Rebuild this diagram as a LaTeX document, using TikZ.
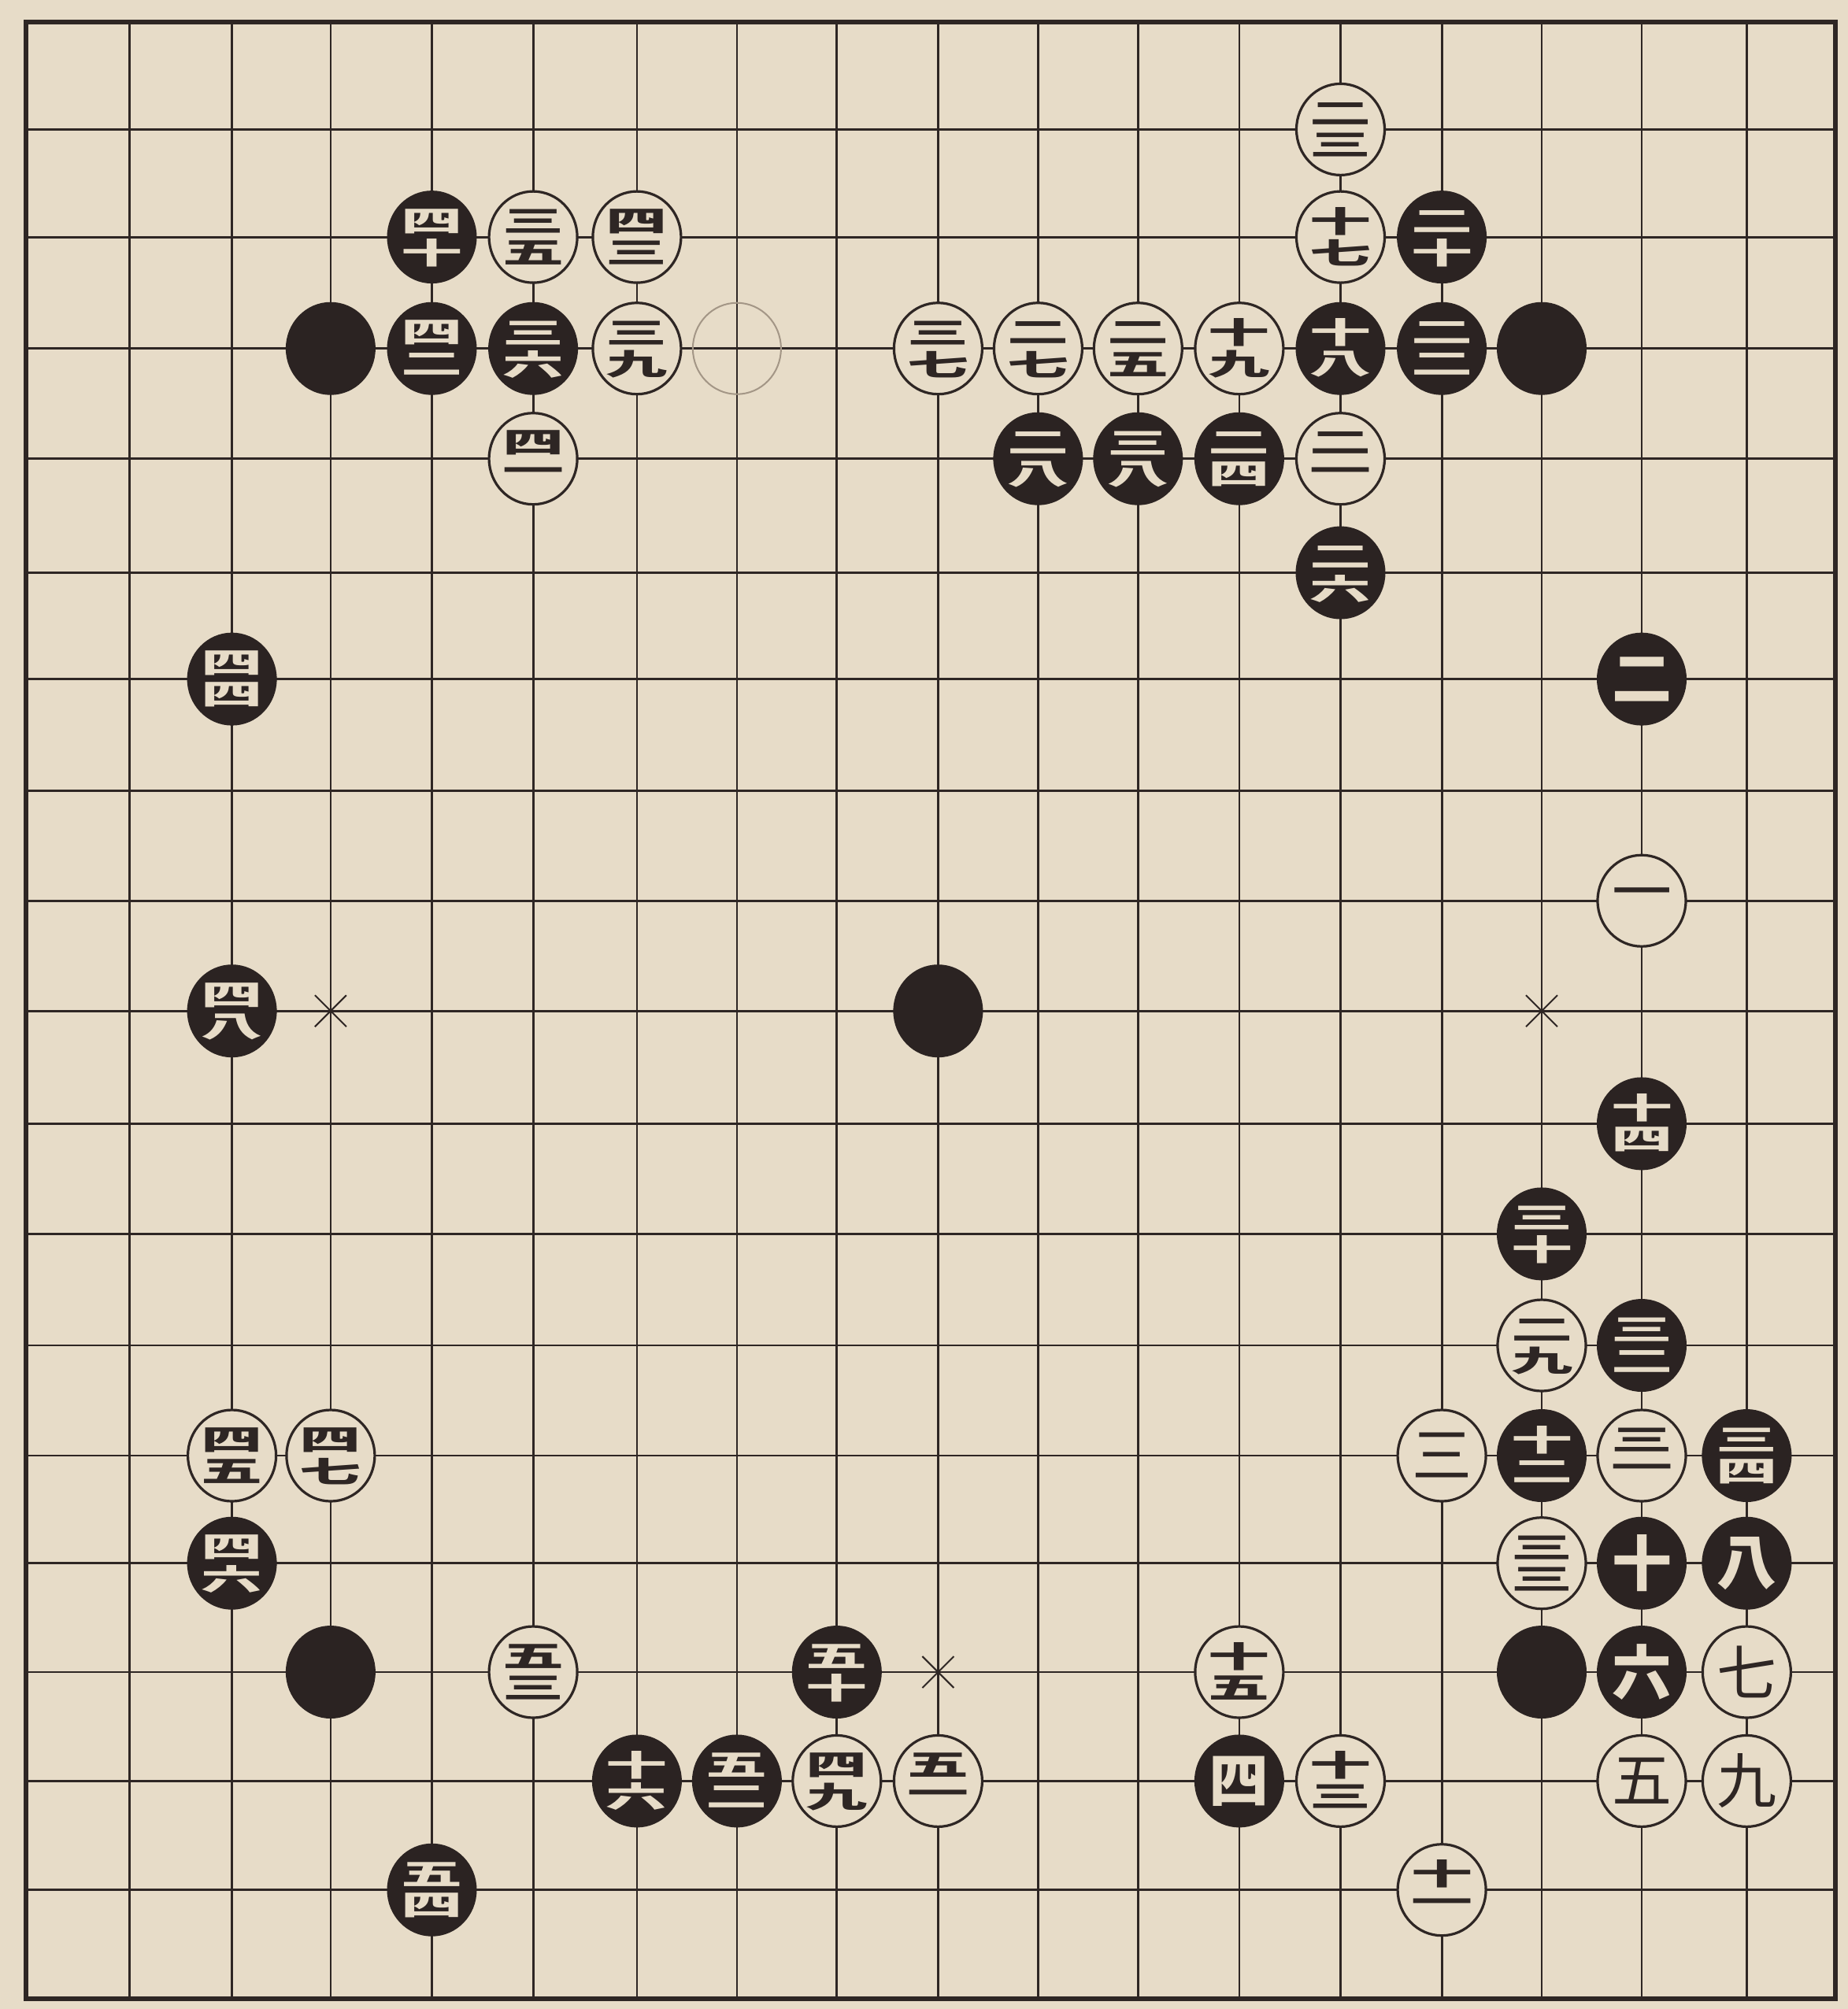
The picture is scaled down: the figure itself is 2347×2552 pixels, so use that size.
\documentclass[tikz,border=0pt]{standalone}
\usepackage{fontspec}
\usetikzlibrary{shapes.geometric}
\newfontfamily\cjk{Noto Sans CJK JP}
\definecolor{paper}{HTML}{E7DCC8}
\definecolor{ink}{HTML}{2E2624}
\definecolor{stoneblk}{HTML}{2B2322}
\definecolor{faint}{HTML}{A39686}
\def\xs{{32.6,164.4,294.6,419.9,548.5,677.1,808.9,935.9,1062.8,1191.4,1318.4,1445.3,1573.9,1702.5,1831.1,1958.0,2085.0,2218.4,2330.7}}
\def\ys{{27.7,164.4,301.1,442.7,582.7,727.5,862.6,1004.2,1144.2,1284.2,1427.4,1567.4,1709.0,1849.0,1985.7,2124.0,2262.4,2400.7,2539.1}}
\tikzset{
  gridline/.style={draw=ink, line width=0.7pt},
  borderline/.style={draw=ink, line width=1.5pt},
  starmark/.style={draw=ink, line width=0.5pt},
  wstone/.style={ellipse, draw=ink, line width=0.8pt, fill=paper, minimum width=28pt, minimum height=29pt, inner sep=0pt},
  bstone/.style={ellipse, draw=stoneblk, line width=0.5pt, fill=stoneblk, minimum width=28pt, minimum height=29pt, inner sep=0pt},
  estone/.style={ellipse, draw=faint, line width=0.5pt, minimum width=28pt, minimum height=29pt, inner sep=0pt},
  wtxt/.style={text=ink, inner sep=0pt, font=\cjk},
  btxt/.style={text=paper, inner sep=0pt, font=\cjk\bfseries},
}
\newcommand\gostone[5]{%
  \pgfmathsetmacro\gx{\xs[#1-1]}%
  \pgfmathsetmacro\gy{\ys[#2-1]}%
  \node[#3stone] (s#1-#2) at (\gx,\gy) {};%
  \if\relax\detokenize{#5}\relax
    \node[#3txt] (t#1-#2) at (s#1-#2.center) {\fontsize{19}{19}\selectfont #4};%
  \else
    \node[#3txt] (t#1-#2) at ([yshift=5pt]s#1-#2.center) {\fontsize{19.5}{19.5}\selectfont\bfseries\scalebox{1}[0.48]{#4}};%
    \node[#3txt] (u#1-#2) at ([yshift=-5pt]s#1-#2.center) {\fontsize{19.5}{19.5}\selectfont\bfseries\scalebox{1}[0.48]{#5}};%
  \fi}
\newcommand\plainstone[3]{%
  \pgfmathsetmacro\gx{\xs[#1-1]}%
  \pgfmathsetmacro\gy{\ys[#2-1]}%
  \node[#3stone] (s#1-#2) at (\gx,\gy) {};}
\newcommand\starx[2]{%
  \pgfmathsetmacro\gx{\xs[#1-1]}%
  \pgfmathsetmacro\gy{\ys[#2-1]}%
  \draw[starmark] (\gx-20,\gy-20) -- (\gx+20,\gy+20) (\gx-20,\gy+20) -- (\gx+20,\gy-20);}
\begin{document}
\begin{tikzpicture}[x=0.25pt,y=-0.25pt]
\useasboundingbox (0,0) rectangle (2347,2552);
\fill[paper] (0,0) rectangle (2347,2552);
% grid
\foreach \i in {0,...,18}{%
  \pgfmathsetmacro\gx{\xs[\i]}%
  \pgfmathsetmacro\gy{\ys[\i]}%
  \draw[gridline] (\gx,27.7) -- (\gx,2539.1);
  \draw[gridline] (32.6,\gy) -- (2330.7,\gy);
}
\draw[borderline] (32.6,27.7) rectangle (2330.7,2539.1);
% star marks
\starx{4}{10}
\starx{16}{10}
\starx{10}{16}
% handicap stones
\plainstone{4}{4}{b}
\plainstone{16}{4}{b}
\plainstone{4}{16}{b}
\plainstone{16}{16}{b}
\plainstone{10}{10}{b}
\plainstone{8}{4}{e}
% white stones
\gostone{17}{9}{w}{一}{}
\gostone{15}{14}{w}{三}{}
\gostone{17}{17}{w}{五}{}
\gostone{18}{16}{w}{七}{}
\gostone{18}{17}{w}{九}{}
\gostone{15}{18}{w}{十}{一}
\gostone{14}{17}{w}{十}{三}
\gostone{13}{16}{w}{十}{五}
\gostone{14}{3}{w}{十}{七}
\gostone{13}{4}{w}{十}{九}
\gostone{14}{5}{w}{二}{一}
\gostone{14}{2}{w}{二}{三}
\gostone{12}{4}{w}{二}{五}
\gostone{11}{4}{w}{二}{七}
\gostone{16}{13}{w}{二}{九}
\gostone{17}{14}{w}{三}{一}
\gostone{16}{15}{w}{三}{三}
\gostone{6}{3}{w}{三}{五}
\gostone{10}{4}{w}{三}{七}
\gostone{7}{4}{w}{三}{九}
\gostone{6}{5}{w}{四}{一}
\gostone{7}{3}{w}{四}{三}
\gostone{3}{14}{w}{四}{五}
\gostone{4}{14}{w}{四}{七}
\gostone{9}{17}{w}{四}{九}
\gostone{10}{17}{w}{五}{一}
\gostone{6}{16}{w}{五}{三}
% black stones
\gostone{17}{7}{b}{二}{}
\gostone{13}{17}{b}{四}{}
\gostone{17}{16}{b}{六}{}
\gostone{18}{15}{b}{八}{}
\gostone{17}{15}{b}{十}{}
\gostone{16}{14}{b}{十}{二}
\gostone{17}{11}{b}{十}{四}
\gostone{7}{17}{b}{十}{六}
\gostone{14}{4}{b}{十}{八}
\gostone{15}{3}{b}{二}{十}
\gostone{15}{4}{b}{二}{二}
\gostone{13}{5}{b}{二}{四}
\gostone{14}{6}{b}{二}{六}
\gostone{11}{5}{b}{二}{八}
\gostone{16}{12}{b}{三}{十}
\gostone{17}{13}{b}{三}{二}
\gostone{18}{14}{b}{三}{四}
\gostone{6}{4}{b}{三}{六}
\gostone{12}{5}{b}{三}{八}
\gostone{5}{3}{b}{四}{十}
\gostone{5}{4}{b}{四}{二}
\gostone{3}{7}{b}{四}{四}
\gostone{3}{15}{b}{四}{六}
\gostone{3}{10}{b}{四}{八}
\gostone{9}{16}{b}{五}{十}
\gostone{8}{17}{b}{五}{二}
\gostone{5}{18}{b}{五}{四}
\end{tikzpicture}
\end{document}
